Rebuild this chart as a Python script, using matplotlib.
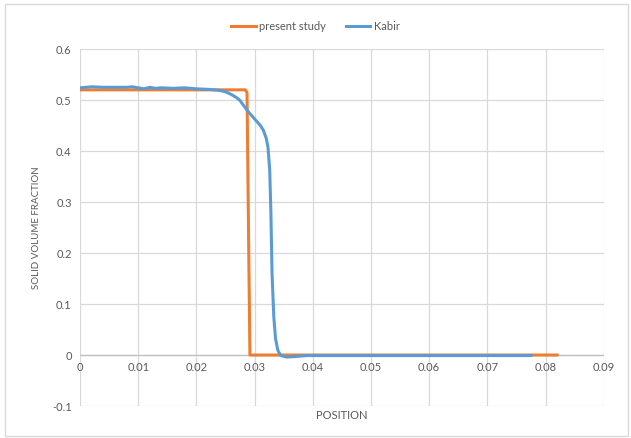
import matplotlib

matplotlib.use("Agg")
import matplotlib.pyplot as plt
from matplotlib.patches import Rectangle

plt.rcParams["font.family"] = ["Lato", "DejaVu Sans"]

TXT = "#595959"
GRID = "#d9d9d9"
ORANGE = "#ed7d31"
BLUE = "#5b9bd5"

# present study: flat plateau, sharp front, zero beyond
present_x = [0.0, 0.010, 0.020, 0.0284, 0.0287, 0.0290, 0.0292, 0.0300, 0.040, 0.060, 0.082]
present_y = [0.520, 0.520, 0.520, 0.520, 0.515, 0.200, 0.0, 0.0, 0.0, 0.0, 0.0]

# Kabir: slightly wavy plateau, smoother front with small undershoot
kabir_x = [0.0, 0.002, 0.004, 0.006, 0.008, 0.009, 0.010, 0.011, 0.012, 0.013,
           0.014, 0.016, 0.018, 0.020, 0.022, 0.023, 0.024, 0.025, 0.026, 0.027,
           0.0275, 0.028, 0.029, 0.030, 0.031, 0.0315, 0.032, 0.0323, 0.0326,
           0.0328, 0.0330, 0.0333, 0.0336, 0.0340, 0.0345, 0.0355, 0.037,
           0.039, 0.045, 0.060, 0.0775]
kabir_y = [0.524, 0.526, 0.525, 0.525, 0.525, 0.526, 0.524, 0.522, 0.525, 0.523,
           0.524, 0.523, 0.524, 0.522, 0.521, 0.520, 0.519, 0.516, 0.511, 0.504,
           0.499, 0.491, 0.476, 0.463, 0.450, 0.441, 0.425, 0.408, 0.363,
           0.280, 0.160, 0.075, 0.032, 0.009, -0.001, -0.004, -0.003,
           -0.001, -0.001, -0.001, -0.001]

fig = plt.figure(figsize=(6.31, 4.38), dpi=100)
ax = fig.add_axes([0.1268, 0.073, 0.830, 0.815])

ax.plot(present_x, present_y, color=ORANGE, lw=2.2, label="present study",
        solid_joinstyle="round", zorder=3)
ax.plot(kabir_x, kabir_y, color=BLUE, lw=2.2, label="Kabir",
        solid_joinstyle="round", zorder=4)

ax.set_xlim(0, 0.09)
ax.set_ylim(-0.1, 0.6)
ax.set_xticks([i / 100 for i in range(10)])
ax.set_yticks([-0.1, 0, 0.1, 0.2, 0.3, 0.4, 0.5, 0.6])
ax.set_yticklabels(["-0.1", "0", "0.1", "0.2", "0.3", "0.4", "0.5", "0.6"])
ax.grid(True, color=GRID, lw=0.9, zorder=0)
ax.set_axisbelow(True)
for s in ax.spines.values():
    s.set_visible(False)
ax.tick_params(axis="both", length=0, labelsize=8, labelcolor=TXT, pad=6)
ax.tick_params(axis="x", pad=0)

# x axis crosses at y=0 (Excel style): move tick labels up there
ax.axhline(0, color="#bfbfbf", lw=0.9, zorder=1)
ax.set_xticklabels([])
for t in ax.get_xticks():
    ax.text(t, -0.014, f"{t:g}", ha="center", va="top", fontsize=8, color=TXT)

ax.set_xlabel("POSITION", fontsize=8, color=TXT, labelpad=3)
ax.set_ylabel("SOLID VOLUME FRACTION", fontsize=7, color=TXT, labelpad=8)

fig.legend(loc="upper center", bbox_to_anchor=(0.5, 0.975), ncol=2,
           frameon=False, fontsize=8, labelcolor=TXT, handlelength=2.2,
           handletextpad=0.3, columnspacing=1.8)

fig.patches.append(Rectangle((0.008, 0.005), 0.988, 0.985, transform=fig.transFigure,
                             fill=False, edgecolor="#d9d9d9", lw=1.0))

fig.savefig("out.png", dpi=100)
